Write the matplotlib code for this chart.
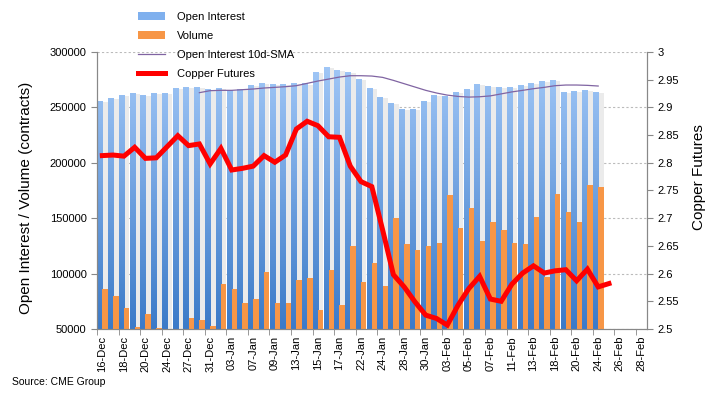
import numpy as np
import matplotlib
matplotlib.use("Agg")
import matplotlib.pyplot as plt
from matplotlib.colors import LinearSegmentedColormap
from matplotlib.patches import Patch
from matplotlib.lines import Line2D

plt.rcParams['font.family'] = ['Liberation Sans', 'DejaVu Sans']

# trading days, 16-Dec to 28-Feb
dates = ['16-Dec', '17-Dec', '18-Dec', '19-Dec', '20-Dec', '23-Dec', '24-Dec', '26-Dec',
         '27-Dec', '30-Dec', '31-Dec', '02-Jan', '03-Jan', '06-Jan', '07-Jan', '08-Jan',
         '09-Jan', '10-Jan', '13-Jan', '14-Jan', '15-Jan', '16-Jan', '17-Jan', '21-Jan',
         '22-Jan', '23-Jan', '24-Jan', '27-Jan', '28-Jan', '29-Jan', '30-Jan', '31-Jan',
         '03-Feb', '04-Feb', '05-Feb', '06-Feb', '07-Feb', '10-Feb', '11-Feb', '12-Feb',
         '13-Feb', '14-Feb', '18-Feb', '19-Feb', '20-Feb', '21-Feb', '24-Feb', '25-Feb',
         '26-Feb', '27-Feb', '28-Feb']

open_interest = [256000, 258700, 261400, 263300, 261400, 263300, 263300, 267800, 268700, 268700,
                 266900, 267800, 266000, 266900, 270500, 272300, 271400, 271400, 272300, 272000,
                 282200, 286700, 284000, 282200, 275900, 267800, 259600, 254200, 248800, 248800,
                 256000, 261400, 260500, 264200, 266900, 271400, 269600, 268700, 268700, 270500,
                 272300, 274100, 275000, 264200, 265100, 266000, 264200]

volume = [86100, 79800, 69000, 51800, 63600, 50900, 40000, 35000, 59900, 58100,
          52700, 90700, 86100, 73500, 77100, 101500, 73500, 73500, 94300, 96000,
          67200, 103300, 71700, 125000, 92500, 109600, 88900, 150300, 126800, 121400,
          125000, 127700, 171100, 141300, 159300, 129500, 146700, 139500, 127700, 126800,
          151200, 97000, 172000, 155700, 146700, 180100, 178300]

# 10d SMA starts on the 10th session
oi_sma = [263300, 265100, 265400, 265400, 266000, 266600, 267500, 268100, 268700, 269600,
          271700, 273800, 275600, 277400, 278600, 278600, 278300, 277100, 274400, 271400,
          268400, 265400, 263000, 261100, 259900, 259300, 259600, 260400, 262200, 264000,
          265400, 266900, 268100, 269600, 270200, 270200, 269900, 269300]

copper = [2.813, 2.814, 2.812, 2.828, 2.808, 2.809, 2.829, 2.849, 2.831, 2.834,
          2.798, 2.826, 2.787, 2.790, 2.794, 2.813, 2.801, 2.814, 2.861, 2.875,
          2.867, 2.847, 2.846, 2.794, 2.766, 2.757, 2.679, 2.598, 2.576, 2.549,
          2.525, 2.519, 2.507, 2.543, 2.573, 2.595, 2.554, 2.550, 2.581, 2.601,
          2.614, 2.601, 2.605, 2.607, 2.587, 2.608, 2.576, 2.582]

fig = plt.figure(figsize=(7.13, 3.94), dpi=100)
ax = fig.add_axes([0.136, 0.165, 0.771, 0.703])
ax2 = ax.twinx()

x_oi = np.arange(len(open_interest))
# light shadow next to the OI bars
ax.bar(x_oi + 0.25, np.array(open_interest) - 1500, width=0.5, color='#ebebeb', zorder=1)
oi_bars = ax.bar(x_oi - 0.24, open_interest, width=0.48, color='none', zorder=2)
cmap = LinearSegmentedColormap.from_list('oi', ['#3b7ac8', '#a6cbf9'])
grad = np.linspace(0, 1, 256).reshape(-1, 1)
for b in oi_bars:
    im = ax.imshow(grad, extent=[-0.5, 50.5, 50000, 300000], origin='lower',
                   aspect='auto', cmap=cmap, zorder=2)
    im.set_clip_path(b)
ax.bar(np.arange(len(volume)) + 0.25, volume, width=0.5, color='#f79646', zorder=3)
ax.plot(np.arange(len(oi_sma)) + 9, oi_sma, color='#8064a2', lw=0.9, zorder=4)

ax2.plot(np.arange(len(copper)), copper, color='#ff0000', lw=3.6, zorder=5,
         solid_joinstyle='miter')

ax.set_xlim(-0.5, len(dates) - 0.5)
ax.set_ylim(50000, 300000)
ax.set_yticks(np.arange(50000, 300001, 50000))
ax.set_yticklabels([str(v) for v in range(50000, 300001, 50000)])
ax2.set_ylim(2.5, 3.0)
ax2.set_yticks(np.arange(2.5, 3.001, 0.05))
ax2.set_yticklabels(['%g' % round(v, 2) for v in np.arange(2.5, 3.001, 0.05)])

ax.set_xticks(np.arange(0, len(dates), 2))
ax.set_xticklabels(dates[::2], rotation=90, fontsize=8)
ax.set_xticks(np.arange(-0.5, len(dates), 2), minor=True)
ax.tick_params(axis='x', which='major', length=0, pad=5)
ax.tick_params(axis='x', which='minor', length=4, color='#888888')
ax.tick_params(axis='y', labelsize=8, length=4, color='#888888')
ax2.tick_params(axis='y', labelsize=8, length=4, color='#888888')

ax.yaxis.grid(True, linestyle=(0, (2, 2)), color='#bbbbbb', lw=0.8)
ax.set_axisbelow(True)
for a in (ax, ax2):
    a.spines['top'].set_visible(False)
    for s in ('left', 'right', 'bottom'):
        a.spines[s].set_color('#888888')

ax.set_ylabel('Open Interest / Volume (contracts)', fontsize=11)
ax.yaxis.set_label_coords(-0.116, 0.473)
ax2.set_ylabel('Copper Futures', fontsize=11)
ax2.yaxis.set_label_coords(1.082, 0.549)

handles = [Patch(facecolor='#7fb0ee'), Patch(facecolor='#f79646'),
           Line2D([], [], color='#8064a2', lw=0.9), Line2D([], [], color='#ff0000', lw=3.6)]
labels = ['Open Interest', 'Volume', 'Open Interest 10d-SMA', 'Copper Futures']
fig.legend(handles, labels, loc='upper left', bbox_to_anchor=(0.179, 0.995), frameon=False,
           fontsize=8, handlelength=2.45, handletextpad=1.05, labelspacing=0.8)

fig.text(0.017, 0.024, 'Source: CME Group', fontsize=7.5)

fig.savefig('out.png', dpi=100)
